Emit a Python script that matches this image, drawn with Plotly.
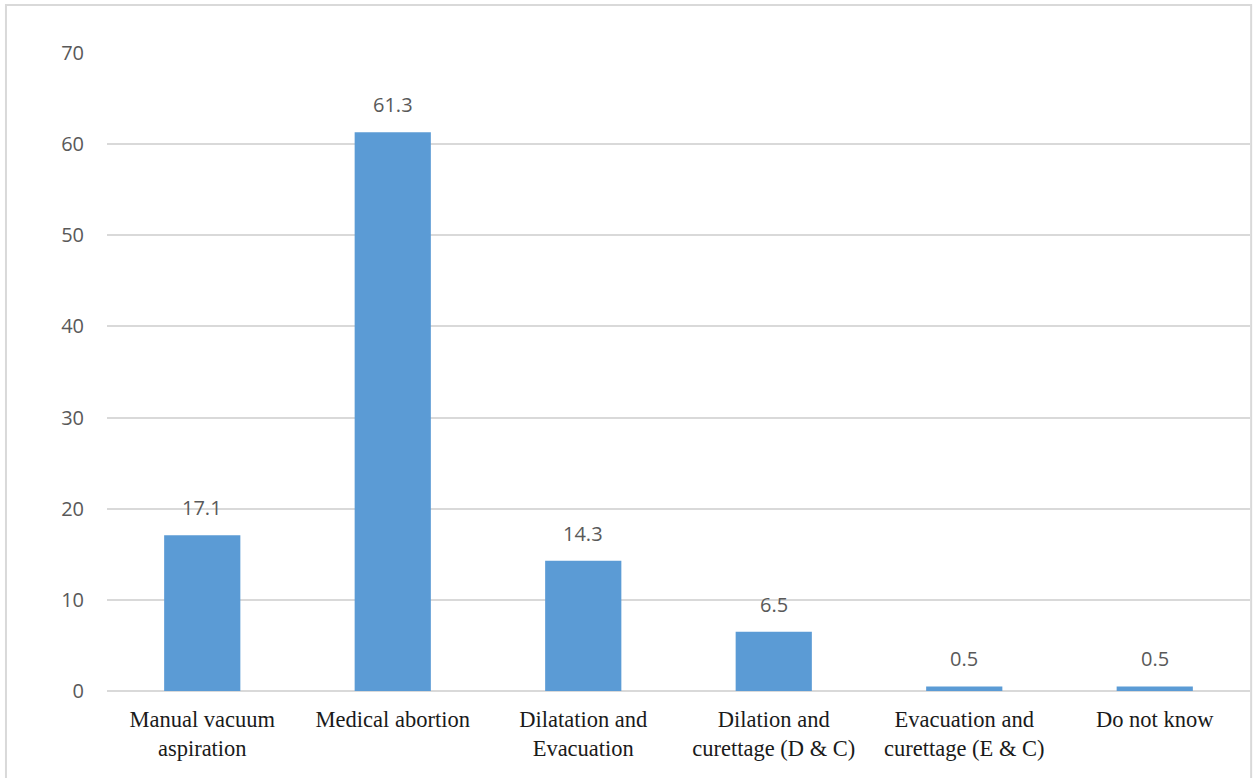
import plotly.graph_objects as go

categories = ["Manual vacuum<br>aspiration", "Medical abortion", "Dilatation and<br>Evacuation",
              "Dilation and<br>curettage (D & C)", "Evacuation and<br>curettage (E & C)", "Do not know"]
values = [17.1, 61.3, 14.3, 6.5, 0.5, 0.5]
labels = ["17.1", "61.3", "14.3", "6.5", "0.5", "0.5"]
y_ticks = [0, 10, 20, 30, 40, 50, 60, 70]

sans = "Open Sans, Calibri, sans-serif"
serif = "Liberation Serif, Times New Roman, serif"

fig = go.Figure(go.Bar(
    x=categories, y=values,
    marker=dict(color="#5B9BD5", line=dict(width=0)),
))

for c, v, t in zip(categories, values, labels):
    fig.add_annotation(x=c, y=v, text=t, showarrow=False, yanchor="bottom", yshift=12,
                       font=dict(family=sans, size=20, color="#595959"))

fig.update_layout(
    width=1255, height=778,
    margin=dict(l=107, r=5, t=53, b=87),
    paper_bgcolor="white", plot_bgcolor="white",
    bargap=0.6, showlegend=False,
    xaxis=dict(showgrid=False, showline=False, ticks="outside", ticklen=8, tickcolor="rgba(0,0,0,0)",
               tickfont=dict(family=serif, size=22.5, color="#1a1a1a")),
    yaxis=dict(range=[0, 70], tickvals=y_ticks, showgrid=True, gridcolor="#D9D9D9", gridwidth=1.5,
               zeroline=True, zerolinecolor="#D9D9D9", zerolinewidth=1.5, showline=False,
               ticks="outside", ticklen=18, tickcolor="rgba(0,0,0,0)",
               tickfont=dict(family=sans, size=20, color="#595959")),
    shapes=[dict(type="rect", xref="paper", yref="paper", x0=-0.0884, x1=1.001, y0=-0.2, y1=1.0752,
                 line=dict(color="#D9D9D9", width=2), fillcolor="rgba(0,0,0,0)", layer="below")],
)

fig.write_html("out.html")
